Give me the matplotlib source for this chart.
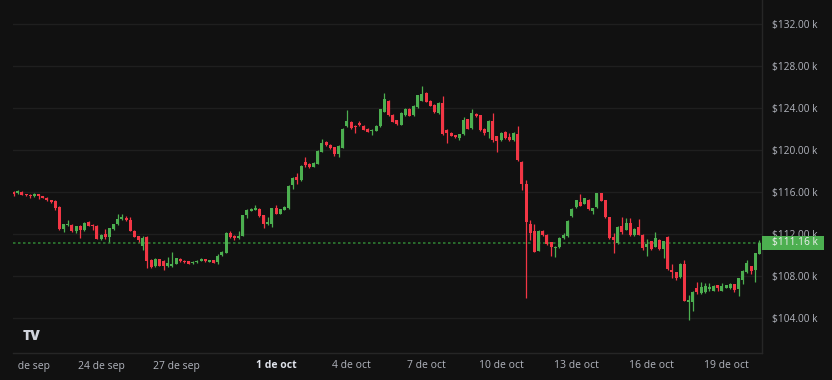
import numpy as np
import pandas as pd
import matplotlib
matplotlib.use('Agg')
import matplotlib.pyplot as plt
import matplotlib.dates as mdates
from matplotlib.patches import Rectangle
from matplotlib.transforms import blended_transform_factory, Bbox, TransformedBbox

# BTC 4h candles, prices in $k
start_time = '2025-09-20 12:00'

opens = [
    116.00, 115.90, 116.00, 115.80, 115.75, 115.60, 115.80, 115.60, 115.45, 115.20,
    115.10, 114.60, 112.50, 112.90, 112.90, 112.30, 112.75, 112.40, 113.15, 112.85,
    112.80, 111.55, 112.00, 111.70, 112.50, 112.95, 113.40, 113.55, 113.35, 112.30,
    111.80, 110.90, 111.70, 109.50, 108.95, 109.60, 109.45, 108.95, 108.95, 109.15,
    109.60, 109.45, 109.40, 109.20, 109.30, 109.45, 109.60, 109.35, 109.50, 109.30,
    110.00, 110.20, 112.10, 111.85, 111.60, 111.85, 113.80, 114.20, 114.30, 114.40,
    113.80, 112.95, 113.00, 114.45, 113.95, 114.30, 114.45, 116.65, 117.40, 117.10,
    118.85, 118.70, 118.40, 118.70, 119.85, 120.80, 120.50, 120.25, 119.60, 120.20,
    122.30, 122.70, 122.30, 122.55, 122.30, 122.05, 121.80, 121.85, 122.30, 123.65,
    124.70, 123.30, 122.85, 122.40, 123.30, 123.90, 123.30, 124.10, 124.70, 125.45,
    124.70, 124.30, 123.50, 124.45, 121.90, 121.65, 121.40, 121.10, 121.50, 122.95,
    122.10, 123.40, 123.30, 122.05, 121.75, 122.75, 121.30, 120.95, 121.75, 121.20,
    120.95, 121.50, 118.90, 116.75, 112.95, 112.25, 110.40, 112.30, 111.95, 111.20,
    110.65, 110.75, 111.60, 111.80, 113.70, 114.55, 115.05, 114.90, 115.25, 114.15,
    114.55, 115.90, 115.20, 113.60, 111.70, 111.10, 112.80, 112.40, 113.05, 111.90,
    112.70, 111.95, 110.75, 111.30, 110.80, 111.45, 110.55, 111.70, 108.60, 108.35,
    107.90, 109.15, 105.50, 105.55, 106.85, 106.35, 106.45, 106.80, 106.60, 107.10,
    106.60, 106.90, 106.85, 107.20, 106.75, 107.60, 108.40, 108.95, 108.55, 110.10,
]
highs = [
    116.10, 116.15, 116.05, 115.85, 115.80, 115.90, 115.85, 115.65, 115.50, 115.25,
    115.20, 114.65, 113.00, 113.35, 113.00, 112.80, 112.85, 113.10, 113.20, 113.00,
    112.85, 112.00, 112.50, 112.60, 113.00, 113.90, 113.90, 113.70, 113.60, 112.40,
    111.85, 111.80, 111.80, 109.60, 109.70, 109.65, 109.50, 109.80, 110.30, 109.75,
    109.70, 109.50, 109.45, 109.40, 109.50, 109.75, 109.65, 109.55, 109.55, 110.05,
    110.35, 112.15, 112.25, 111.90, 112.30, 113.85, 114.35, 114.45, 114.80, 114.50,
    113.85, 113.60, 114.50, 114.80, 114.40, 114.65, 116.65, 117.40, 117.80, 118.55,
    119.30, 118.80, 118.85, 120.00, 121.05, 120.85, 120.60, 120.30, 120.45, 122.10,
    123.80, 122.80, 122.35, 122.75, 122.40, 122.10, 122.00, 122.35, 123.95, 125.45,
    124.80, 123.40, 122.90, 123.60, 124.05, 124.00, 124.25, 125.25, 126.10, 125.55,
    124.75, 124.35, 124.55, 125.10, 122.00, 121.70, 121.45, 121.55, 123.10, 123.00,
    123.95, 123.50, 123.35, 122.10, 122.85, 123.50, 121.35, 121.70, 121.80, 121.60,
    121.70, 122.30, 119.00, 117.10, 113.30, 112.95, 112.35, 112.35, 112.00, 111.25,
    110.85, 111.70, 112.10, 113.30, 114.45, 115.25, 115.80, 115.45, 115.30, 114.50,
    115.95, 115.95, 115.25, 113.65, 112.10, 112.75, 113.60, 113.50, 113.50, 112.55,
    113.40, 112.00, 111.50, 111.35, 112.20, 111.50, 111.35, 111.85, 109.10, 108.40,
    109.20, 109.50, 106.20, 106.55, 107.45, 107.45, 107.30, 107.30, 107.10, 107.15,
    107.35, 107.15, 107.35, 107.25, 107.85, 108.55, 109.50, 108.95, 110.20, 111.40,
]
lows = [
    115.65, 115.85, 115.70, 115.65, 115.40, 115.55, 115.30, 115.40, 115.15, 115.00,
    114.30, 112.40, 112.20, 112.80, 112.20, 112.10, 111.60, 112.30, 112.75, 112.40,
    111.50, 111.40, 111.50, 111.25, 112.40, 112.90, 113.35, 113.25, 112.25, 111.70,
    111.20, 110.50, 108.75, 108.80, 108.90, 108.95, 108.55, 108.90, 108.85, 109.10,
    109.35, 109.25, 109.10, 109.10, 109.25, 109.40, 109.35, 109.30, 109.20, 109.15,
    109.95, 110.15, 111.60, 111.45, 111.55, 111.80, 113.50, 114.15, 114.25, 113.65,
    112.60, 112.90, 112.70, 113.90, 113.90, 114.25, 114.40, 116.25, 116.80, 117.05,
    118.35, 118.30, 118.35, 118.65, 119.80, 120.40, 120.10, 119.40, 119.30, 120.15,
    122.20, 122.05, 121.65, 122.30, 121.90, 121.70, 121.40, 121.80, 122.20, 123.60,
    123.25, 122.65, 122.40, 122.35, 123.25, 123.20, 123.25, 124.05, 124.65, 124.55,
    124.15, 123.55, 123.45, 121.45, 120.65, 121.30, 121.15, 121.00, 121.45, 122.00,
    122.05, 123.15, 121.85, 121.40, 121.10, 120.80, 119.85, 120.90, 121.05, 120.90,
    120.90, 119.00, 116.20, 105.90, 111.40, 110.25, 110.35, 111.85, 111.00, 109.90,
    109.80, 110.70, 111.55, 111.75, 113.60, 114.50, 114.65, 114.85, 114.30, 113.90,
    114.50, 115.10, 113.55, 111.55, 110.20, 111.05, 112.00, 112.35, 111.85, 111.85,
    111.90, 110.50, 109.90, 110.50, 110.75, 110.50, 109.70, 108.60, 107.80, 107.60,
    107.85, 105.60, 103.80, 104.70, 106.30, 106.30, 106.40, 106.60, 106.55, 106.55,
    106.55, 106.85, 106.80, 106.50, 106.10, 107.25, 108.30, 108.20, 107.45, 110.05,
]
closes = [
    115.85, 116.05, 115.75, 115.70, 115.60, 115.80, 115.60, 115.45, 115.20, 115.05,
    114.50, 112.50, 112.95, 113.00, 112.30, 112.75, 112.40, 113.05, 112.80, 112.80,
    111.55, 111.95, 111.70, 112.55, 112.95, 113.45, 113.60, 113.30, 112.30, 111.75,
    111.45, 111.60, 109.40, 108.90, 109.60, 109.00, 108.95, 109.25, 109.15, 109.70,
    109.40, 109.30, 109.15, 109.35, 109.45, 109.65, 109.40, 109.50, 109.25, 109.95,
    110.30, 112.10, 111.70, 111.60, 111.85, 113.80, 114.30, 114.35, 114.45, 113.70,
    112.95, 113.10, 114.45, 113.95, 114.35, 114.60, 116.60, 117.35, 117.10, 118.50,
    118.55, 118.35, 118.80, 119.95, 120.65, 120.50, 120.15, 119.60, 120.40, 122.05,
    122.75, 122.10, 122.15, 122.35, 121.95, 121.75, 121.95, 122.30, 123.90, 124.85,
    123.30, 122.70, 122.45, 123.55, 123.95, 123.25, 124.20, 125.20, 125.30, 124.60,
    124.20, 123.60, 124.50, 121.50, 121.65, 121.35, 121.20, 121.50, 122.85, 122.05,
    123.50, 123.20, 121.90, 121.60, 122.80, 121.00, 120.90, 121.65, 121.10, 120.95,
    121.65, 119.05, 116.80, 113.10, 112.10, 110.30, 112.30, 111.90, 111.05, 110.80,
    110.80, 111.65, 111.90, 113.25, 114.40, 115.20, 114.70, 115.40, 114.35, 114.45,
    115.90, 115.15, 113.60, 111.60, 111.40, 112.70, 112.20, 113.05, 111.90, 112.50,
    111.95, 110.70, 111.05, 110.55, 111.60, 110.55, 111.30, 108.65, 108.40, 107.80,
    109.15, 105.65, 105.70, 106.50, 106.45, 107.00, 107.05, 106.95, 107.05, 106.85,
    107.05, 107.10, 107.25, 106.70, 107.80, 108.50, 109.20, 108.50, 110.15, 111.16,
]
last_price = 111.16

price_ticks = [104, 108, 112, 116, 120, 124, 128, 132]
date_ticks = ['2025-09-21', '2025-09-24', '2025-09-27', '2025-10-01', '2025-10-04',
              '2025-10-07', '2025-10-10', '2025-10-13', '2025-10-16', '2025-10-19']
date_labels = ['21 de sep', '24 de sep', '27 de sep', '1 de oct', '4 de oct',
               '7 de oct', '10 de oct', '13 de oct', '16 de oct', '19 de oct']

bg = '#111111'
up = '#4caf50'
down = '#f23645'
txt = '#b2b5be'
plt.rcParams['font.family'] = ['Open Sans', 'DejaVu Sans']

times = pd.date_range(start_time, periods=len(closes), freq='4h')
x = mdates.date2num(times)
o = np.array(opens)
h = np.array(highs)
l = np.array(lows)
c = np.array(closes)
colors = [up if cc >= oo else down for oo, cc in zip(o, c)]

fig = plt.figure(figsize=(8.32, 3.8), dpi=100, facecolor=bg)
ax = fig.add_axes([13 / 832, 27 / 380, 749 / 832, 353 / 380], facecolor=bg)

# wicks and bodies
ax.vlines(x, l, h, colors=colors, lw=0.9, zorder=3)
body = np.maximum(np.abs(c - o), 0.09)
ax.bar(x, body, bottom=np.minimum(o, c), width=0.12, color=colors, lw=0, zorder=4)

# last price dotted line
ax.axhline(last_price, color='#2e7d32', lw=1.2, ls=(0, (1.5, 1.5)), zorder=2)

oct1 = mdates.date2num(pd.Timestamp('2025-10-01'))
ax.set_xlim(oct1 - 263 / 25, oct1 + 486 / 25)
ax.set_ylim(100.667, 134.29)

ax.set_yticks(price_ticks)
ax.yaxis.tick_right()
ax.set_yticklabels([f'${p:.2f} k' for p in price_ticks])
ax.tick_params(axis='y', length=0, pad=7, labelsize=7.3, labelcolor=txt)
ax.set_xticks([])
ax.grid(axis='y', color='#1f1f1f', lw=1)
ax.set_axisbelow(True)
for side in ['top', 'left']:
    ax.spines[side].set_visible(False)
for side in ['right', 'bottom']:
    ax.spines[side].set_color('#262626')
    ax.spines[side].set_linewidth(1)

# date labels, clipped at the pane's left edge
clip = TransformedBbox(Bbox([[13 / 832, 0], [1, 1]]), fig.transFigure)
tr = blended_transform_factory(ax.transData, fig.transFigure)
for d, lab in zip(date_ticks, date_labels):
    bold = lab == '1 de oct'
    t = ax.text(mdates.date2num(pd.Timestamp(d)), 1 - 366 / 380, lab, transform=tr,
                ha='center', va='center', fontsize=7.5,
                color='#e0e3eb' if bold else txt,
                fontweight='bold' if bold else 'normal')
    t.set_clip_on(True)
    t.set_clip_box(clip)

# last price tag
tr2 = blended_transform_factory(ax.transAxes, ax.transData)
ax.add_patch(Rectangle((1.0, last_price - 0.68), 62 / 749, 1.36, transform=tr2,
                       facecolor=up, edgecolor='none', clip_on=False, zorder=5))
ax.text(1.0 + 10 / 749, last_price, f'${last_price:.2f} k', transform=tr2,
        ha='left', va='center', fontsize=7.3, color='#f0f0f0', zorder=6)

# logo
fig.text(23 / 832, 1 - 336 / 380, 'TV', fontsize=10, fontweight='heavy',
         color='#d1d4dc', ha='left', va='center')

fig.savefig('out.png', dpi=100, facecolor=bg)
